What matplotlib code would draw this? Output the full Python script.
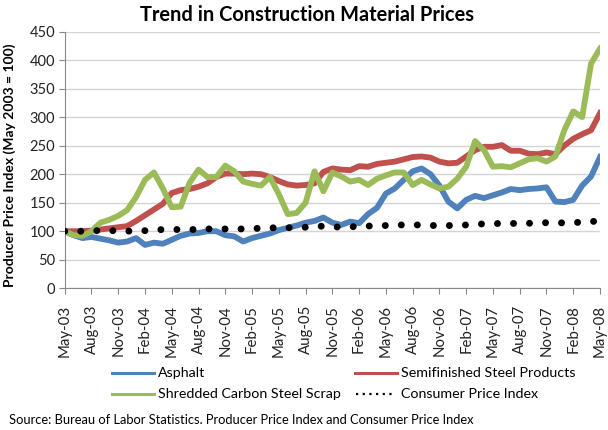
import matplotlib
matplotlib.use("Agg")
import matplotlib.pyplot as plt
from matplotlib.lines import Line2D
import pandas as pd

months = pd.date_range("2003-05-01", "2008-05-01", freq="MS")
tick_labels = ["May-03", "Aug-03", "Nov-03", "Feb-04", "May-04", "Aug-04", "Nov-04",
               "Feb-05", "May-05", "Aug-05", "Nov-05", "Feb-06", "May-06", "Aug-06",
               "Nov-06", "Feb-07", "May-07", "Aug-07", "Nov-07", "Feb-08", "May-08"]

asphalt = [100, 93, 88, 90, 87, 84, 80, 82, 88, 76, 80, 78, 85, 92, 96, 97, 100, 100, 93, 91,
           82, 88, 92, 96, 102, 106, 110, 115, 118, 124, 115, 111, 117, 114, 130, 141, 166, 175,
           190, 205, 210, 200, 180, 152, 140, 155, 162, 158, 163, 168, 174, 172, 174, 175, 177,
           152, 151, 155, 180, 196, 230]
steel = [100, 100, 100, 101, 103, 105, 107, 109, 118, 128, 138, 148, 167, 172, 174, 178, 184,
         195, 201, 201, 200, 201, 200, 195, 188, 182, 180, 181, 184, 204, 210, 208, 207, 214,
         213, 218, 220, 222, 226, 230, 231, 229, 222, 219, 220, 231, 242, 248, 248, 251, 241,
         241, 236, 235, 238, 235, 250, 262, 270, 277, 307]
scrap = [100, 93, 92, 100, 115, 120, 127, 137, 160, 190, 203, 175, 142, 143, 185, 208, 195,
         195, 215, 205, 187, 183, 180, 195, 165, 130, 132, 150, 205, 170, 203, 196, 187, 190,
         181, 192, 198, 203, 203, 181, 190, 182, 175, 178, 192, 213, 258, 242, 213, 214, 212,
         219, 226, 228, 222, 231, 277, 310, 300, 394, 420]
cpi = [100, 100, 100, 101, 101, 101, 101, 100, 101, 101, 102, 103, 103, 103, 103, 103, 104,
       104, 104, 104, 104, 105, 105, 106, 106, 106, 107, 107, 108, 109, 108, 107, 108, 108,
       109, 110, 110, 111, 111, 111, 111, 110, 110, 110, 110, 111, 112, 113, 113, 114, 114,
       113, 114, 114, 115, 114, 115, 115, 116, 117, 118]

series_names = ["Asphalt", "Semifinished Steel Products", "Shredded Carbon Steel Scrap",
                "Consumer Price Index"]
colors = ["#4F81BD", "#C0504D", "#9BBB59", "#000000"]

plt.rcParams['font.family'] = ['Lato', 'DejaVu Sans']

W, H = 608, 430
fig = plt.figure(figsize=(W / 100, H / 100), dpi=100)
ax = fig.add_axes([64.7 / W, 1 - 288.3 / H, (600 - 64.7) / W, (288.3 - 31.5) / H])

x = list(range(len(months)))
ax.plot(x, asphalt, color=colors[0], lw=4.2, solid_joinstyle="round", zorder=3)
ax.plot(x, steel, color=colors[1], lw=4.2, solid_joinstyle="round", zorder=2)
ax.plot(x, scrap, color=colors[2], lw=4.2, solid_joinstyle="round", zorder=4)
ax.plot(x, cpi, color=colors[3], lw=5.0, linestyle=(0, (0.01, 2.3)),
        dash_capstyle="round", zorder=5)

ax.set_xlim(0, len(months) - 1)
ax.set_ylim(0, 450)
ax.set_yticks(range(0, 451, 50))
ax.set_xticks(range(0, len(months), 3))
ax.set_xticklabels(tick_labels, rotation=90, fontsize=10.8, color="#222222")
ax.tick_params(axis="y", labelsize=10.5, length=4, color="#888888", labelcolor="#222222", pad=3)
ax.tick_params(axis="x", length=4, color="#888888", pad=8)
ax.grid(axis="y", color="#d4d4d4", lw=1)
ax.set_axisbelow(True)
for s in ["top", "right"]:
    ax.spines[s].set_visible(False)
for s in ["left", "bottom"]:
    ax.spines[s].set_color("#888888")

fig.text(10 / W, 1 - 165 / H, "Producer Price Index (May 2003 = 100)", rotation=90,
         fontsize=10, fontweight="bold", ha="center", va="center")
fig.text(307 / W, 1 - 15 / H, "Trend in Construction Material Prices", fontsize=14.4,
         fontweight="bold", ha="center", va="center")
fig.text(9 / W, 1 - 420 / H,
         "Source: Bureau of Labor Statistics. Producer Price Index and Consumer Price Index",
         fontsize=9.3, ha="left", va="center")

# legend (manual placement to mirror the reference layout)
entries = [
    (series_names[0], colors[0], 112, 373, "-"),
    (series_names[1], colors[1], 355, 373, "-"),
    (series_names[2], colors[2], 112, 394, "-"),
    (series_names[3], colors[3], 355, 394, ":"),
]
for name, col, x0, y0, ls in entries:
    if ls == "-":
        fig.add_artist(Line2D([x0 / W, (x0 + 42) / W], [1 - y0 / H, 1 - y0 / H],
                              color=col, lw=2.2, transform=fig.transFigure))
    else:
        fig.add_artist(Line2D([(x0 + 1) / W, (x0 + 39) / W], [1 - y0 / H, 1 - y0 / H],
                              color=col, lw=1.6, linestyle=(0, (1, 2.0)),
                              transform=fig.transFigure))
    fig.text((x0 + 46) / W, 1 - y0 / H, name, fontsize=10.3, ha="left", va="center")

fig.savefig("out.png", dpi=100)
